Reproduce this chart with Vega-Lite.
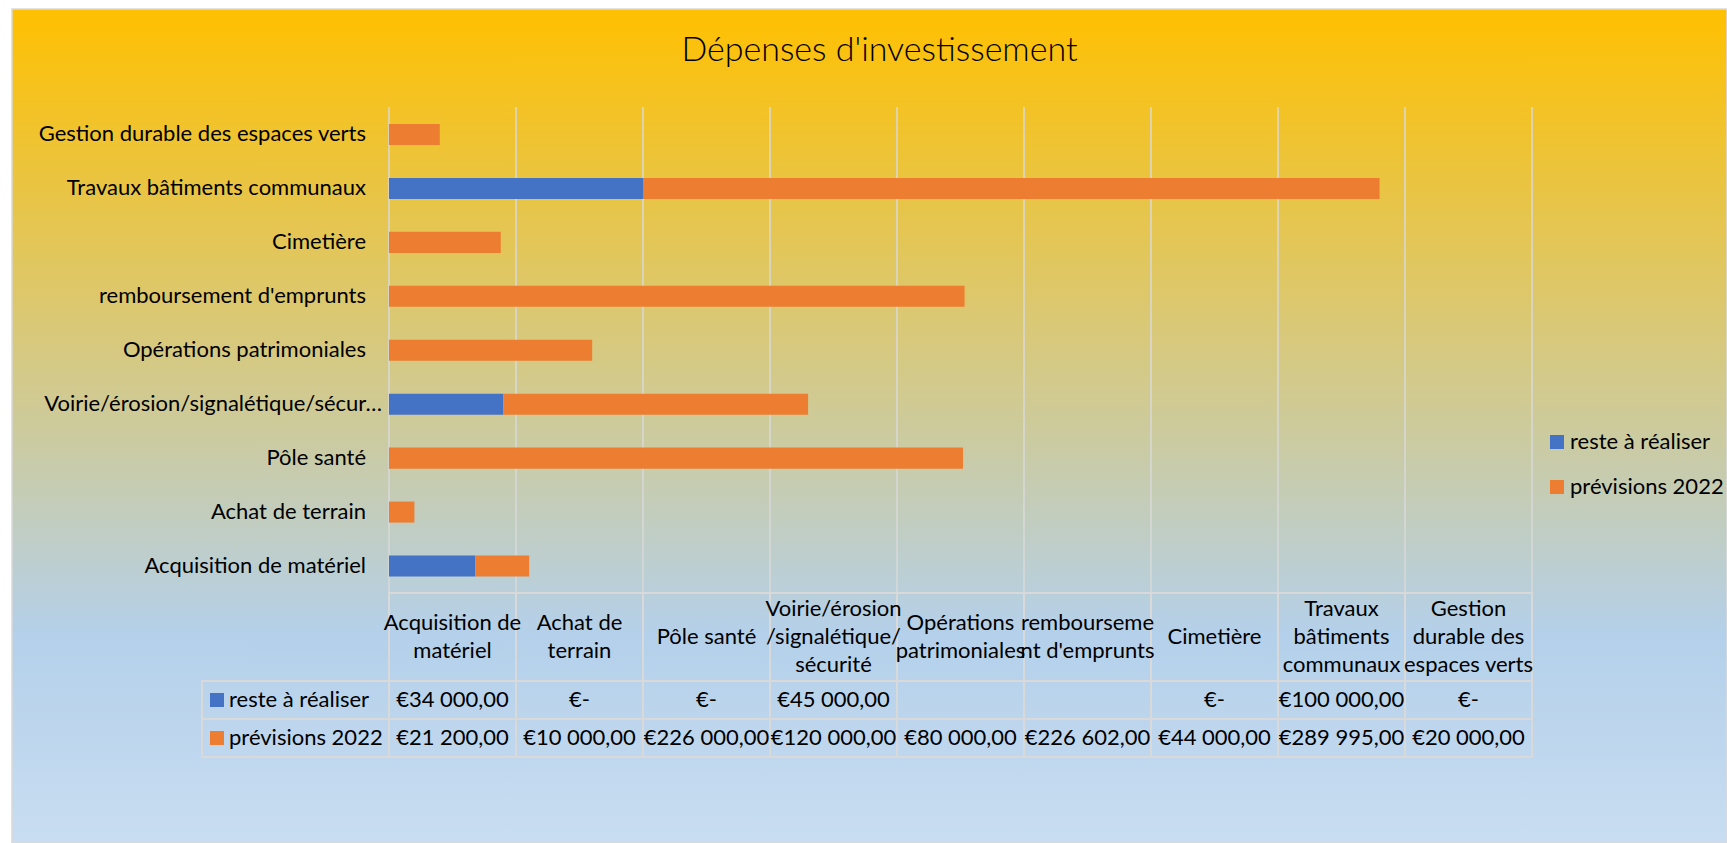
{
  "$schema": "https://vega.github.io/schema/vega-lite/v6.json",
  "width": 1727,
  "height": 843,
  "autosize": {"type": "fit", "contains": "padding"},
  "padding": {"left": 12, "top": 9, "right": 0, "bottom": 0},
  "background": "#FFFFFF",
  "title": {
    "text": "Dépenses d'investissement",
    "fontSize": 34,
    "font": "Lato",
    "fontWeight": 300,
    "color": "#000000",
    "anchor": "middle",
    "offset": -55,
    "baseline": "alphabetic",
    "dx": 10,
    "dy": 31
  },
  "config": {
    "font": "Lato",
    "view": {
      "fill": {
        "gradient": "linear",
        "x1": 0, "y1": 0, "x2": 0, "y2": 1,
        "stops": [
          {"offset": 0, "color": "#FFC000"},
          {"offset": 0.75, "color": "#B4D0EA"},
          {"offset": 1, "color": "#C8DDF1"}
        ]
      },
      "stroke": "#D9D9D9",
      "strokeWidth": 1.5
    },
    "locale": {
      "number": {
        "decimal": ",",
        "thousands": " ",
        "grouping": [3],
        "currency": ["€", ""]
      }
    }
  },
  "datasets": {
    "depenses": [
      {"category": "Acquisition de matériel", "series": "reste à réaliser", "value": 34000},
      {"category": "Acquisition de matériel", "series": "prévisions 2022", "value": 21200},
      {"category": "Achat de terrain", "series": "reste à réaliser", "value": 0},
      {"category": "Achat de terrain", "series": "prévisions 2022", "value": 10000},
      {"category": "Pôle santé", "series": "reste à réaliser", "value": 0},
      {"category": "Pôle santé", "series": "prévisions 2022", "value": 226000},
      {"category": "Voirie/érosion/signalétique/sécurité", "series": "reste à réaliser", "value": 45000},
      {"category": "Voirie/érosion/signalétique/sécurité", "series": "prévisions 2022", "value": 120000},
      {"category": "Opérations patrimoniales", "series": "reste à réaliser", "value": null},
      {"category": "Opérations patrimoniales", "series": "prévisions 2022", "value": 80000},
      {"category": "remboursement d'emprunts", "series": "reste à réaliser", "value": null},
      {"category": "remboursement d'emprunts", "series": "prévisions 2022", "value": 226602},
      {"category": "Cimetière", "series": "reste à réaliser", "value": 0},
      {"category": "Cimetière", "series": "prévisions 2022", "value": 44000},
      {"category": "Travaux bâtiments communaux", "series": "reste à réaliser", "value": 100000},
      {"category": "Travaux bâtiments communaux", "series": "prévisions 2022", "value": 289995},
      {"category": "Gestion durable des espaces verts", "series": "reste à réaliser", "value": 0},
      {"category": "Gestion durable des espaces verts", "series": "prévisions 2022", "value": 20000}
    ],
    "rubriques": [
      {"category": "Acquisition de matériel", "header": "Acquisition de\nmatériel"},
      {"category": "Achat de terrain", "header": "Achat de\nterrain"},
      {"category": "Pôle santé", "header": "Pôle santé"},
      {"category": "Voirie/érosion/signalétique/sécurité", "header": "Voirie/érosion\n/signalétique/\nsécurité"},
      {"category": "Opérations patrimoniales", "header": "Opérations\npatrimoniales"},
      {"category": "remboursement d'emprunts", "header": "rembourseme\nnt d'emprunts"},
      {"category": "Cimetière", "header": "Cimetière"},
      {"category": "Travaux bâtiments communaux", "header": "Travaux\nbâtiments\ncommunaux"},
      {"category": "Gestion durable des espaces verts", "header": "Gestion\ndurable des\nespaces verts"}
    ],
    "grille": [
      {"v": 0}, {"v": 50000}, {"v": 100000}, {"v": 150000}, {"v": 200000},
      {"v": 250000}, {"v": 300000}, {"v": 350000}, {"v": 400000}, {"v": 450000}
    ]
  },
  "layer": [
    {
      "data": {"name": "grille"},
      "mark": {"type": "rule", "color": "#D9D9D9", "strokeWidth": 1.5},
      "encoding": {
        "x": {"field": "v", "type": "quantitative", "scale": {"domain": [0, 450000], "range": [377, 1520], "nice": false}, "axis": null},
        "y": {"datum": 0, "type": "quantitative", "scale": {"domain": [0, 1], "range": [98, 748], "nice": false}, "axis": null},
        "y2": {"datum": 1}
      }
    },
    {
      "data": {"name": "depenses"},
      "layer": [
        {
          "mark": {"type": "bar"},
          "encoding": {
            "y": {
              "field": "category", "type": "nominal",
              "scale": {
                "domain": ["Gestion durable des espaces verts", "Travaux bâtiments communaux", "Cimetière", "remboursement d'emprunts", "Opérations patrimoniales", "Voirie/érosion/signalétique/sécurité", "Pôle santé", "Achat de terrain", "Acquisition de matériel"],
                "range": [98.5, 584], "paddingInner": 0.61, "paddingOuter": 0.305
              },
              "axis": null
            },
            "x": {"field": "value", "type": "quantitative", "stack": "zero", "scale": {"domain": [0, 450000], "range": [377, 1520], "nice": false}, "axis": null},
            "color": {
              "field": "series", "type": "nominal",
              "scale": {"domain": ["reste à réaliser", "prévisions 2022"], "range": ["#4472C4", "#ED7D31"]},
              "legend": {
                "orient": "none", "legendX": 1534, "legendY": 422, "title": null,
                "symbolType": "square", "symbolSize": 196, "symbolStrokeWidth": 0,
                "labelFontSize": 22, "labelFont": "Lato", "labelColor": "#000000",
                "rowPadding": 23, "labelOffset": 2
              }
            },
            "order": {"field": "series", "sort": "descending"}
          }
        },
        {
          "transform": [{"filter": "datum.series === 'prévisions 2022' && datum.category !== 'Voirie/érosion/signalétique/sécurité'"}],
          "mark": {"type": "text", "align": "right", "baseline": "middle", "dx": -23, "fontSize": 22, "limit": 345, "color": "#000000"},
          "encoding": {
            "y": {"field": "category", "type": "nominal"},
            "x": {"datum": 0, "type": "quantitative"},
            "text": {"field": "category"}
          }
        },
        {
          "transform": [{"filter": "datum.series === 'prévisions 2022' && datum.category === 'Voirie/érosion/signalétique/sécurité'"}],
          "mark": {"type": "text", "align": "right", "baseline": "middle", "dx": -7, "fontSize": 22, "limit": 342, "color": "#000000"},
          "encoding": {
            "y": {"field": "category", "type": "nominal"},
            "x": {"datum": 0, "type": "quantitative"},
            "text": {"field": "category"}
          }
        }
      ]
    },
    {
      "data": {"name": "rubriques"},
      "encoding": {
        "x": {
          "field": "category", "type": "nominal",
          "scale": {
            "domain": ["Acquisition de matériel", "Achat de terrain", "Pôle santé", "Voirie/érosion/signalétique/sécurité", "Opérations patrimoniales", "remboursement d'emprunts", "Cimetière", "Travaux bâtiments communaux", "Gestion durable des espaces verts"],
            "range": [377, 1520], "paddingInner": 0, "paddingOuter": 0
          },
          "axis": null
        },
        "y": {"datum": "en-tête", "type": "nominal", "scale": {"domain": ["en-tête"], "range": [584, 672], "paddingInner": 0, "paddingOuter": 0}, "axis": null}
      },
      "layer": [
        {"mark": {"type": "rect", "fill": "transparent", "stroke": "#D9D9D9", "strokeWidth": 2}},
        {
          "transform": [{"filter": "length(split(datum.header, '\\n')) === 1"}],
          "mark": {"type": "text", "fontSize": 22, "lineBreak": "\n", "lineHeight": 28, "baseline": "middle", "align": "center", "color": "#000000"},
          "encoding": {"text": {"field": "header"}}
        },
        {
          "transform": [{"filter": "length(split(datum.header, '\\n')) === 2"}],
          "mark": {"type": "text", "fontSize": 22, "lineBreak": "\n", "lineHeight": 28, "baseline": "middle", "align": "center", "dy": -14, "color": "#000000"},
          "encoding": {"text": {"field": "header"}}
        },
        {
          "transform": [{"filter": "length(split(datum.header, '\\n')) === 3"}],
          "mark": {"type": "text", "fontSize": 22, "lineBreak": "\n", "lineHeight": 28, "baseline": "middle", "align": "center", "dy": -28, "color": "#000000"},
          "encoding": {"text": {"field": "header"}}
        }
      ]
    },
    {
      "data": {"name": "depenses"},
      "encoding": {
        "x": {
          "field": "category", "type": "nominal",
          "scale": {
            "domain": ["Acquisition de matériel", "Achat de terrain", "Pôle santé", "Voirie/érosion/signalétique/sécurité", "Opérations patrimoniales", "remboursement d'emprunts", "Cimetière", "Travaux bâtiments communaux", "Gestion durable des espaces verts"],
            "range": [377, 1520], "paddingInner": 0, "paddingOuter": 0
          },
          "axis": null
        },
        "y": {"field": "series", "type": "nominal", "scale": {"domain": ["reste à réaliser", "prévisions 2022"], "range": [672, 748], "paddingInner": 0, "paddingOuter": 0}, "axis": null}
      },
      "layer": [
        {"mark": {"type": "rect", "fill": "transparent", "stroke": "#D9D9D9", "strokeWidth": 2}},
        {
          "mark": {"type": "text", "fontSize": 22, "baseline": "middle", "align": "center", "color": "#000000"},
          "encoding": {
            "text": {
              "condition": [
                {"test": "datum.value === null", "value": ""},
                {"test": "datum.value === 0", "value": "€-"}
              ],
              "field": "value", "type": "quantitative", "format": "$,.2f"
            }
          }
        }
      ]
    },
    {
      "data": {"name": "depenses"},
      "transform": [{"aggregate": [{"op": "count", "as": "n"}], "groupby": ["series"]}],
      "encoding": {
        "x": {"datum": "légende", "type": "nominal", "bandPosition": 0, "scale": {"domain": ["légende"], "range": [190, 377], "paddingInner": 0, "paddingOuter": 0}, "axis": null},
        "y": {"field": "series", "type": "nominal", "scale": {"domain": ["reste à réaliser", "prévisions 2022"], "range": [672, 748], "paddingInner": 0, "paddingOuter": 0}, "axis": null}
      },
      "layer": [
        {
          "mark": {"type": "rect", "fill": "transparent", "stroke": "#D9D9D9", "strokeWidth": 2},
          "encoding": {"x": {"datum": "légende", "type": "nominal"}}
        },
        {
          "mark": {"type": "point", "shape": "square", "filled": true, "size": 196, "xOffset": 15, "opacity": 1},
          "encoding": {"color": {"field": "series", "type": "nominal"}}
        },
        {
          "mark": {"type": "text", "align": "left", "baseline": "middle", "dx": 27, "fontSize": 22, "color": "#000000"},
          "encoding": {"text": {"field": "series"}}
        }
      ]
    }
  ],
  "resolve": {"scale": {"x": "independent", "y": "independent", "color": "shared"}}
}
